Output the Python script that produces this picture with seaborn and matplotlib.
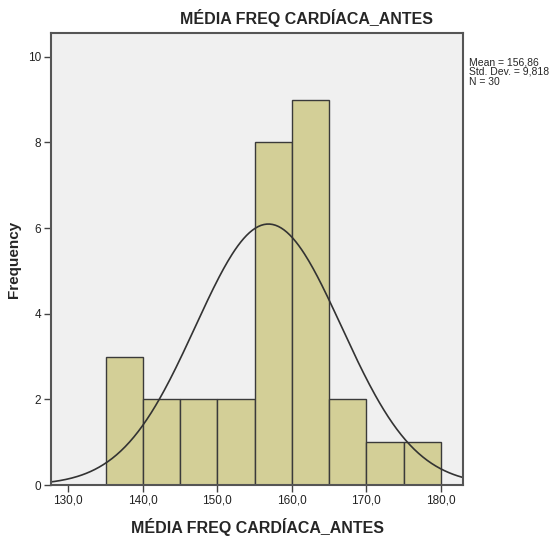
import numpy as np
import pandas as pd
import matplotlib
matplotlib.use("Agg")
import matplotlib.pyplot as plt
import seaborn as sns

# histogram bins (centres) and counts
bin_centres = [137.5, 142.5, 147.5, 152.5, 157.5, 162.5, 167.5, 172.5, 177.5]
counts = [3, 2, 2, 2, 8, 9, 2, 1, 1]
mean_val = 156.86
std_val = 9.818
n_obs = 30
x_ticks = [130, 140, 150, 160, 170, 180]
y_ticks = [0, 2, 4, 6, 8, 10]

sns.set_style("ticks")
plt.rcParams['font.family'] = ['Liberation Sans', 'DejaVu Sans']

fig = plt.figure(figsize=(5.56, 5.36), dpi=100)
ax = fig.add_axes([0.092, 0.095, 0.741, 0.843])
ax.set_facecolor('#f0f0f0')

df = pd.DataFrame({'val': bin_centres, 'n': counts})
sns.histplot(data=df, x='val', weights='n', binwidth=5, binrange=(135, 180),
             color='#d3cf97', edgecolor='#3a3a3a', linewidth=1, alpha=1, ax=ax)

# normal curve
xs = np.linspace(126, 184, 300)
ys = n_obs * 5 / (std_val * np.sqrt(2 * np.pi)) * np.exp(-0.5 * ((xs - mean_val) / std_val) ** 2)
sns.lineplot(x=xs, y=ys, color='#333333', linewidth=1.2, ax=ax)

ax.set_xlim(127.7, 183.0)
ax.set_ylim(0, 10.55)
ax.set_xticks(x_ticks)
ax.set_xticklabels([f"{t},0" for t in x_ticks], fontsize=8.5, color='#222222')
ax.set_yticks(y_ticks)
ax.set_yticklabels([str(t) for t in y_ticks], fontsize=8.5, color='#222222')
ax.tick_params(direction='out', length=5, width=1, color='#444444', pad=2)
for s in ax.spines.values():
    s.set_visible(True)
    s.set_color('#555555')
    s.set_linewidth(1.5)

ax.set_xlabel('MÉDIA FREQ CARDÍACA_ANTES', fontsize=11.5, fontweight='bold', labelpad=8)
ax.set_ylabel('Frequency', fontsize=11, fontweight='bold', labelpad=5)
fig.text(0.552, 0.966, 'MÉDIA FREQ CARDÍACA_ANTES', ha='center', va='center',
         fontsize=11.5, fontweight='bold')
fig.text(0.843, 0.893,
         f"Mean = {str(mean_val).replace('.', ',')}\nStd. Dev. = {str(std_val).replace('.', ',')}\nN = {n_obs}",
         ha='left', va='top', fontsize=7.5, linespacing=0.95)

fig.savefig('out.png', dpi=100)
